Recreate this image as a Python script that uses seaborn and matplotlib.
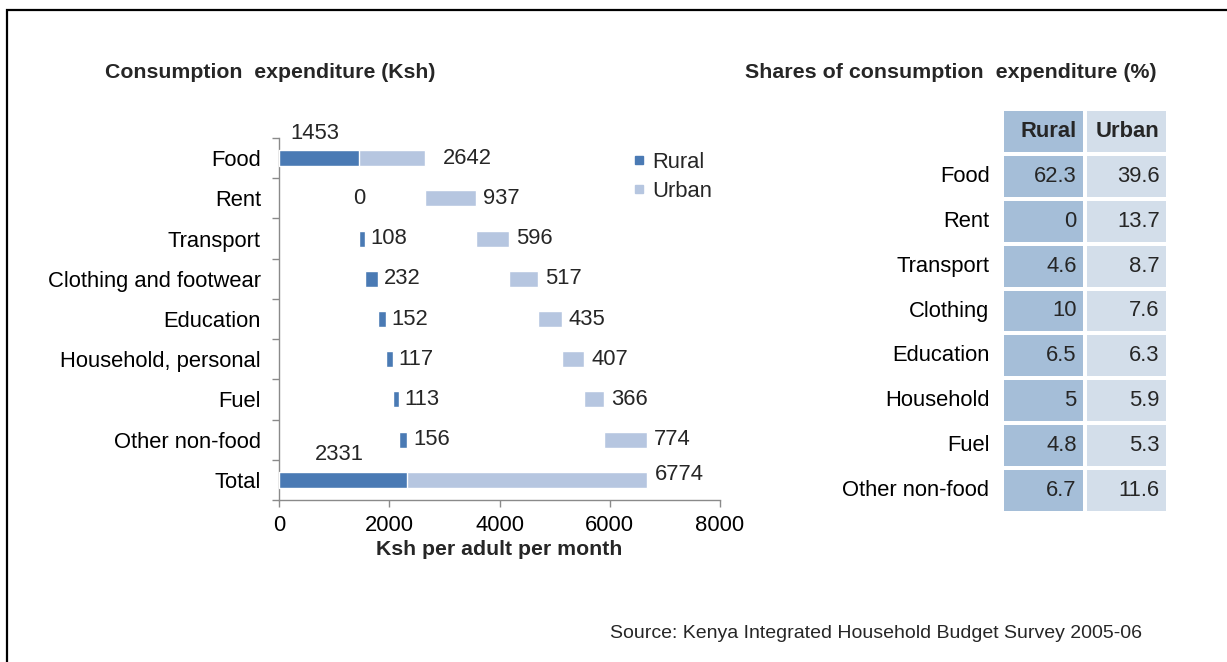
import numpy as np
import matplotlib
matplotlib.use("Agg")
import matplotlib.pyplot as plt
import seaborn as sns
from matplotlib.lines import Line2D
from matplotlib.patches import Rectangle
from matplotlib.colors import ListedColormap

# ---------------- data ----------------
categories = ["Food", "Rent", "Transport", "Clothing and footwear", "Education",
              "Household, personal", "Fuel", "Other non-food"]
rural_ksh = [1453, 0, 108, 232, 152, 117, 113, 156]
urban_ksh = [2642, 937, 596, 517, 435, 407, 366, 774]
total_name = "Total"
rural_total_label = 2331
urban_total_label = 6774

share_categories = ["Food", "Rent", "Transport", "Clothing", "Education",
                    "Household", "Fuel", "Other non-food"]
share_columns = ["Rural", "Urban"]
rural_share = [62.3, 0, 4.6, 10, 6.5, 5, 4.8, 6.7]
urban_share = [39.6, 13.7, 8.7, 7.6, 6.3, 5.9, 5.3, 11.6]

# ---------------- style ----------------
sns.set_theme(style="white")
plt.rcParams['font.family'] = ['Liberation Sans', 'DejaVu Sans']

DARK = "#4a7ab4"
LIGHT = "#b6c6e0"
T_R = "#a5bed8"
T_U = "#d3deea"
AXC = "#8a8a8a"
FS = 15.8

W, H = 1227, 662
def fx(px): return px / W
def fy(py): return 1 - py / H

fig = plt.figure(figsize=(W / 100, H / 100), dpi=100)

# ---------------- waterfall bars ----------------
ax = fig.add_axes([fx(279), fy(500), fx(720) - fx(279), fy(138) - fy(500)])
n = len(categories)
rows = np.arange(n + 1)
r_start = np.concatenate([[0], np.cumsum(rural_ksh)[:-1], [0]])
u_start = np.concatenate([[0], np.cumsum(urban_ksh)[:-1], [0]])
r_width = np.concatenate([rural_ksh, [np.sum(rural_ksh)]])
u_width = np.concatenate([urban_ksh, [np.sum(urban_ksh)]])

ax.barh(rows, u_width, left=u_start, height=0.4, color=LIGHT, zorder=2)
ax.barh(rows, r_width, left=r_start, height=0.4, color=DARK, zorder=3)

ax.set_xlim(0, 8000)
ax.set_ylim(n + 0.5, -0.5)
ax.set_xticks([0, 2000, 4000, 6000, 8000])
ax.set_yticks(rows)
ax.set_yticklabels(categories + [total_name])
ax.set_yticks(np.arange(-0.5, n + 1.0, 1.0), minor=True)
ax.tick_params(axis='y', which='major', length=0, pad=13, labelsize=FS, colors='black')
ax.tick_params(axis='y', which='minor', length=5, width=1, color=AXC, direction='out', left=True)
ax.tick_params(axis='x', length=5, width=1, color=AXC, direction='out', bottom=True,
               labelsize=FS, pad=6, labelcolor='black')
for s in ['top', 'right']:
    ax.spines[s].set_visible(False)
for s in ['left', 'bottom']:
    ax.spines[s].set_color(AXC)
    ax.spines[s].set_linewidth(1)
ax.set_xlabel("Ksh per adult per month", fontsize=15.3, fontweight='bold', labelpad=3)

# value labels
r_labels = list(rural_ksh) + [rural_total_label]
u_labels = list(urban_ksh) + [urban_total_label]
for i in rows:
    r_end = r_start[i] + r_width[i]
    u_end = u_start[i] + u_width[i]
    if i == 0 or i == n:
        ax.annotate(str(r_labels[i]), xy=(r_end / 2, i), xytext=(-3, 18), textcoords='offset points',
                    ha='center', va='center', fontsize=FS)
    elif r_labels[i] == 0:
        ax.annotate(str(r_labels[i]), xy=(r_end, i), ha='center', va='center', fontsize=FS)
    else:
        ax.annotate(str(r_labels[i]), xy=(r_end, i), xytext=(4, 0), textcoords='offset points',
                    ha='left', va='center', fontsize=FS)
    if i == 0:
        off = (13, 0)
    elif i == n:
        off = (6, 4)
    else:
        off = (5, 0)
    ax.annotate(str(u_labels[i]), xy=(u_end, i), xytext=off, textcoords='offset points',
                ha='left', va='center', fontsize=FS)

handles = [Line2D([], [], marker='s', ls='', color=DARK, markersize=6),
           Line2D([], [], marker='s', ls='', color=LIGHT, markersize=6)]
fig.legend(handles, ["Rural", "Urban"], loc='upper left', bbox_to_anchor=(fx(628), fy(152)),
           frameon=False, fontsize=FS, handletextpad=0.1, labelspacing=0.35, handlelength=1.0,
           borderpad=0, borderaxespad=0)

fig.text(fx(105), fy(72), "Consumption  expenditure (Ksh)", fontweight='bold', fontsize=15.3,
         ha='left', va='center')
fig.text(fx(745), fy(72), "Shares of consumption  expenditure (%)", fontweight='bold', fontsize=15.4,
         ha='left', va='center')

# ---------------- share table ----------------
ax2 = fig.add_axes([fx(1002), fy(513), fx(1168) - fx(1002), fy(109) - fy(513)])
mat = np.tile([0, 1], (len(share_categories) + 1, 1))
sns.heatmap(mat, cmap=ListedColormap([T_R, T_U]), cbar=False, linewidths=1.5, linecolor='white',
            ax=ax2, xticklabels=False, yticklabels=[""] + share_categories)
ax2.tick_params(axis='y', length=0, pad=9, labelsize=FS, rotation=0, colors='black')
for j, c in enumerate(share_columns):
    ax2.text(j + 0.9, 0.5, c, ha='right', va='center', fontsize=FS, fontweight='bold')
for i, (a, b) in enumerate(zip(rural_share, urban_share)):
    ax2.text(0.9, i + 1.5, f"{a:g}", ha='right', va='center', fontsize=FS)
    ax2.text(1.9, i + 1.5, f"{b:g}", ha='right', va='center', fontsize=FS)

fig.text(fx(610), fy(634), "Source: Kenya Integrated Household Budget Survey 2005-06",
         fontsize=14, ha='left', va='center', family=['Liberation Sans Narrow', 'Liberation Sans'])

fig.add_artist(Rectangle((fx(7), -0.1), 1.2, fy(10) + 0.1, transform=fig.transFigure,
                         fill=False, lw=1.6, ec='black'))

fig.savefig("out.png", dpi=100)
